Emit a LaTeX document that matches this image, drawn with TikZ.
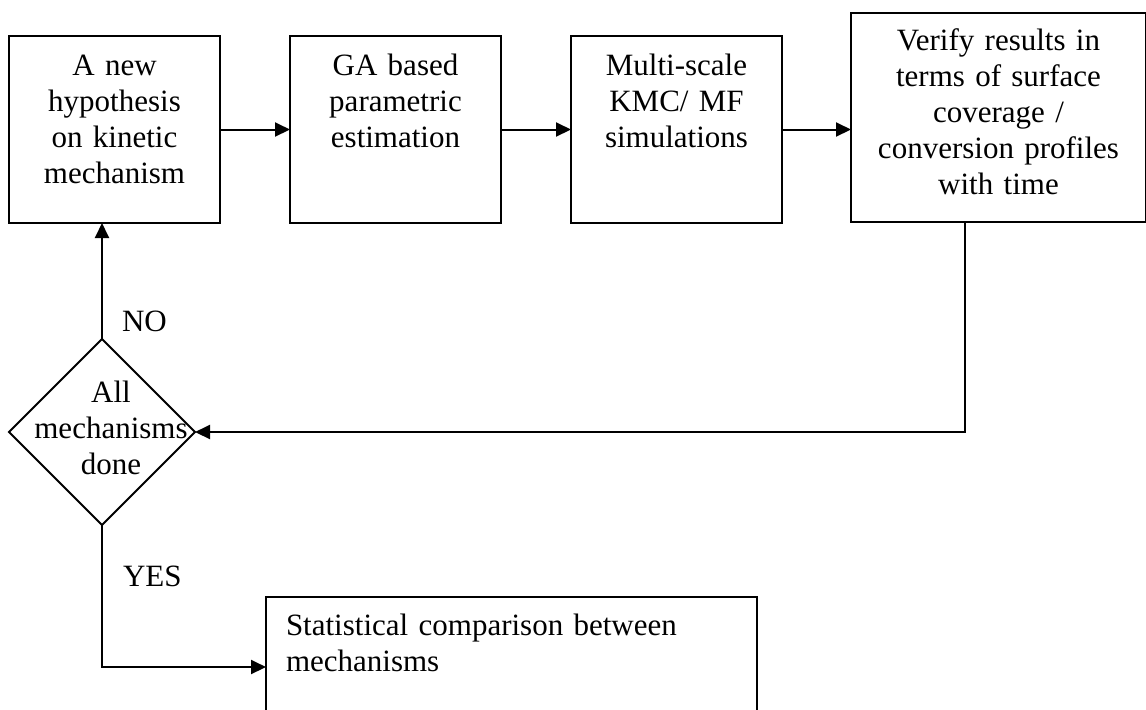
\documentclass[tikz,border=0pt]{standalone}
\usepackage{fontspec}
\setmainfont{Liberation Serif}
\usetikzlibrary{shapes.geometric,arrows.meta,positioning}

\begin{document}
\begin{tikzpicture}
\tikzstyle{stage}=[rectangle, draw=black, line width=1pt, inner sep=0pt, outer sep=0pt,
	text width=105.5pt, align=center, text height=19.5pt, text depth=74pt,
	font=\fontsize{15.5}{18}\selectfont, node distance=140.5pt]
\tikzstyle{decision}=[diamond, draw=black, line width=1pt, inner sep=0pt, outer sep=0pt,
	minimum width=93pt, minimum height=93pt]
\tikzstyle{report}=[rectangle, draw=black, line width=1pt, inner xsep=10pt, inner ysep=0pt,
	outer sep=0pt, text width=225.5pt, align=left, text height=19pt, text depth=51pt,
	font=\fontsize{15.5}{18}\selectfont]
\tikzstyle{answer}=[font=\fontsize{15.5}{18}\selectfont, inner sep=0pt]
\tikzstyle{flow}=[line width=1pt, -{Triangle[length=7.5pt,width=7pt]}]
\useasboundingbox (0,0) rectangle (573pt,-354.5pt);
\node[stage] (hyp) at (57.25pt,-64.75pt) {A new\\hypothesis\\on kinetic\\mechanism};
\node[stage, right of = hyp] (ga) {GA based\\parametric\\estimation};
\node[stage, right of = ga] (kmc) {Multi-scale\\KMC/ MF\\simulations};
\node[stage, right of = kmc, node distance=161pt, yshift=6pt, text width=147.5pt,
	text height=18.5pt, text depth=86pt] (ver) {Verify results in\\terms of surface\\coverage /\\conversion profiles\\with time};
\node[decision, below of = hyp, node distance=151.25pt, xshift=-6.25pt,
	label={[font=\fontsize{15.5}{18}\selectfont, align=center, inner sep=0pt, xshift=4.5pt, yshift=2pt]center:All\\mechanisms\\done}] (all) {};
\node[report] (res) at (255.75pt,-333.5pt) {Statistical comparison between\\mechanisms};
\draw[flow] (hyp) -- (ga);
\draw[flow] (ga) -- (kmc);
\draw[flow] (kmc.east) -- (kmc.east -| ver.west);
\draw[flow] ([xshift=-16.75pt]ver.south) |- (all.east);
\draw[flow] (all.north) -- (all.north |- hyp.south) node[answer, pos=0.15, right=9.5pt] {NO};
\draw[flow] (all.south) |- (res.west) node[answer, pos=0.18, right=10pt] {YES};

\end{tikzpicture}
\end{document}
